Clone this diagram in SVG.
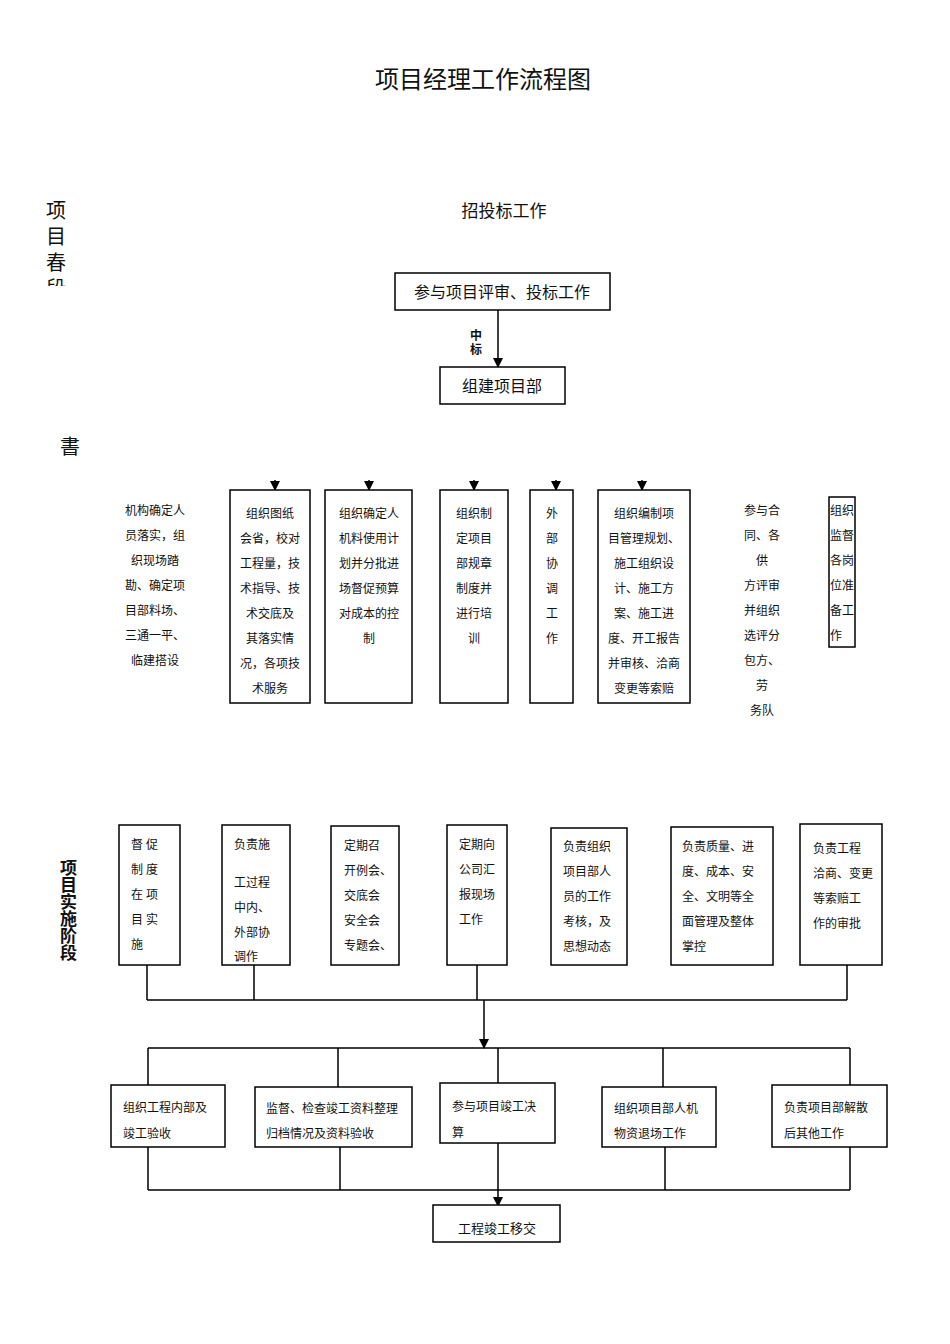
<svg xmlns="http://www.w3.org/2000/svg" width="950" height="1344" viewBox="0 0 950 1344">
<defs>
<marker id="ad" markerWidth="10" markerHeight="12" refX="9" refY="5" orient="auto" markerUnits="userSpaceOnUse"><path d="M0,0 L10,5 L0,10 z" fill="#000"/></marker>
<style>
text{font-family:"Liberation Serif","Noto Sans CJK SC",serif;fill:#111}
.b{fill:#fff;stroke:#000;stroke-width:1.5}
.l{stroke:#000;stroke-width:1.5;fill:none}
.s{font-size:12px}
.m{text-anchor:middle}
</style>
</defs>
<text x="483" y="88" class="m" font-size="24">项目经理工作流程图</text>
<text x="504" y="217" class="m" font-size="17">招投标工作</text>
<g font-size="20"><text x="46" y="218">项</text><text x="46" y="244">目</text><text x="46" y="270">春</text></g>
<svg x="40" y="276" width="40" height="10"><text x="6" y="20" font-size="20">段</text></svg>
<text x="60" y="454" font-size="20">書</text>
<g font-size="17" font-weight="bold" font-family="Noto Sans CJK SC,sans-serif"><text x="60" y="874">项</text><text x="60" y="891">目</text><text x="60" y="908">实</text><text x="60" y="925">施</text><text x="60" y="942">阶</text><text x="60" y="959">段</text></g>

<g id="connectors">
<line class="l" x1="498" y1="310" x2="498" y2="367" marker-end="url(#ad)"/>
<g marker-end="url(#ad)"><line class="l" x1="275" y1="480" x2="275" y2="490"/><line class="l" x1="369" y1="480" x2="369" y2="490"/><line class="l" x1="474" y1="480" x2="474" y2="490"/><line class="l" x1="556" y1="480" x2="556" y2="490"/><line class="l" x1="642" y1="480" x2="642" y2="490"/></g>
<path class="l" d="M147,965V1000M254,965V1000M477,965V1000M847,965V1000M147,1000H847"/>
<line class="l" x1="484" y1="1000" x2="484" y2="1048" marker-end="url(#ad)"/>
<path class="l" d="M148,1048H850M148,1048V1085M338,1048V1087M498,1048V1083M663,1048V1087M850,1048V1085"/>
<path class="l" d="M148,1147V1190M340,1147V1190M498,1143V1190M665,1147V1190M850,1147V1190M148,1190H850"/>
<line class="l" x1="498" y1="1190" x2="498" y2="1206" marker-end="url(#ad)"/>
</g>
<text x="476" y="340" font-size="12" font-weight="bold" class="m" font-family="Noto Sans CJK SC,sans-serif">中</text>
<text x="476" y="354" font-size="12" font-weight="bold" class="m" font-family="Noto Sans CJK SC,sans-serif">标</text>

<g id="n1"><rect class="b" x="395" y="273" width="215" height="37"/><text x="502" y="298" class="m" font-size="16">参与项目评审、投标工作</text></g>
<g id="n2"><rect class="b" x="440" y="367" width="125" height="37"/><text x="502" y="392" class="m" font-size="16">组建项目部</text></g>

<g id="p0" class="s m"><text x="155" y="515">机构确定人</text><text x="155" y="540">员落实，组</text><text x="155" y="565">织现场踏</text><text x="155" y="590">勘、确定项</text><text x="155" y="615">目部料场、</text><text x="155" y="640">三通一平、</text><text x="155" y="665">临建搭设</text></g>
<g id="p1"><rect class="b" x="230" y="490" width="80" height="213"/><g class="s m"><text x="270" y="518">组织图纸</text><text x="270" y="543">会省，校对</text><text x="270" y="568">工程量，技</text><text x="270" y="593">术指导、技</text><text x="270" y="618">术交底及</text><text x="270" y="643">其落实情</text><text x="270" y="668">况，各项技</text><text x="270" y="693">术服务</text></g></g>
<g id="p2"><rect class="b" x="325" y="490" width="87" height="213"/><g class="s m"><text x="369" y="518">组织确定人</text><text x="369" y="543">机料使用计</text><text x="369" y="568">划并分批进</text><text x="369" y="593">场督促预算</text><text x="369" y="618">对成本的控</text><text x="369" y="643">制</text></g></g>
<g id="p3"><rect class="b" x="440" y="490" width="68" height="213"/><g class="s m"><text x="474" y="518">组织制</text><text x="474" y="543">定项目</text><text x="474" y="568">部规章</text><text x="474" y="593">制度并</text><text x="474" y="618">进行培</text><text x="474" y="643">训</text></g></g>
<g id="p4"><rect class="b" x="530" y="490" width="43" height="213"/><g class="s m"><text x="552" y="518">外</text><text x="552" y="543">部</text><text x="552" y="568">协</text><text x="552" y="593">调</text><text x="552" y="618">工</text><text x="552" y="643">作</text></g></g>
<g id="p5"><rect class="b" x="598" y="490" width="92" height="213"/><g class="s m"><text x="644" y="518">组织编制项</text><text x="644" y="543">目管理规划、</text><text x="644" y="568">施工组织设</text><text x="644" y="593">计、施工方</text><text x="644" y="618">案、施工进</text><text x="644" y="643">度、开工报告</text><text x="644" y="668">并审核、洽商</text><text x="644" y="693">变更等索赔</text></g></g>
<g id="p6" class="s m"><text x="762" y="515">参与合</text><text x="762" y="540">同、各</text><text x="762" y="565">供</text><text x="762" y="590">方评审</text><text x="762" y="615">并组织</text><text x="762" y="640">选评分</text><text x="762" y="665">包方、</text><text x="762" y="690">劳</text><text x="762" y="715">务队</text></g>
<g id="p7"><rect class="b" x="829" y="497" width="26" height="150" stroke-width="1"/><g class="s"><text x="830" y="515">组织</text><text x="830" y="540">监督</text><text x="830" y="565">各岗</text><text x="830" y="590">位准</text><text x="830" y="615">备工</text><text x="830" y="640">作</text></g></g>

<g id="m1"><rect class="b" x="119" y="825" width="61" height="140"/><g class="s"><text x="131" y="849">督 促</text><text x="131" y="874">制 度</text><text x="131" y="899">在 项</text><text x="131" y="924">目 实</text><text x="131" y="949">施</text></g></g>
<g id="m2"><rect class="b" x="222" y="825" width="68" height="140"/><g class="s"><text x="234" y="849">负责施</text><text x="234" y="887">工过程</text><text x="234" y="912">中内、</text><text x="234" y="937">外部协</text><text x="234" y="961">调作</text></g></g>
<g id="m3"><rect class="b" x="331" y="826" width="68" height="139"/><g class="s"><text x="344" y="850">定期召</text><text x="344" y="875">开例会、</text><text x="344" y="900">交底会</text><text x="344" y="925">安全会</text><text x="344" y="950">专题会、</text></g></g>
<g id="m4"><rect class="b" x="447" y="825" width="60" height="140"/><g class="s"><text x="459" y="849">定期向</text><text x="459" y="874">公司汇</text><text x="459" y="899">报现场</text><text x="459" y="924">工作</text></g></g>
<g id="m5"><rect class="b" x="551" y="828" width="76" height="137"/><g class="s"><text x="563" y="851">负责组织</text><text x="563" y="876">项目部人</text><text x="563" y="901">员的工作</text><text x="563" y="926">考核，及</text><text x="563" y="951">思想动态</text></g></g>
<g id="m6"><rect class="b" x="671" y="827" width="102" height="138"/><g class="s"><text x="682" y="851">负责质量、进</text><text x="682" y="876">度、成本、安</text><text x="682" y="901">全、文明等全</text><text x="682" y="926">面管理及整体</text><text x="682" y="951">掌控</text></g></g>
<g id="m7"><rect class="b" x="800" y="824" width="82" height="141"/><g class="s"><text x="813" y="853">负责工程</text><text x="813" y="878">洽商、变更</text><text x="813" y="903">等索赔工</text><text x="813" y="928">作的审批</text></g></g>

<g id="e1"><rect class="b" x="111" y="1085" width="114" height="62"/><g class="s"><text x="123" y="1112">组织工程内部及</text><text x="123" y="1138">竣工验收</text></g></g>
<g id="e2"><rect class="b" x="255" y="1087" width="157" height="60"/><g class="s"><text x="266" y="1113">监督、检查竣工资料整理</text><text x="266" y="1138">归档情况及资料验收</text></g></g>
<g id="e3"><rect class="b" x="440" y="1083" width="115" height="60"/><g class="s"><text x="452" y="1111">参与项目竣工决</text><text x="452" y="1137">算</text></g></g>
<g id="e4"><rect class="b" x="602" y="1087" width="114" height="60"/><g class="s"><text x="614" y="1113">组织项目部人机</text><text x="614" y="1138">物资退场工作</text></g></g>
<g id="e5"><rect class="b" x="772" y="1085" width="115" height="62"/><g class="s"><text x="784" y="1112">负责项目部解散</text><text x="784" y="1138">后其他工作</text></g></g>
<g id="f"><rect class="b" x="433" y="1205" width="127" height="37"/><text x="497" y="1233" class="m" font-size="13">工程竣工移交</text></g>
</svg>
